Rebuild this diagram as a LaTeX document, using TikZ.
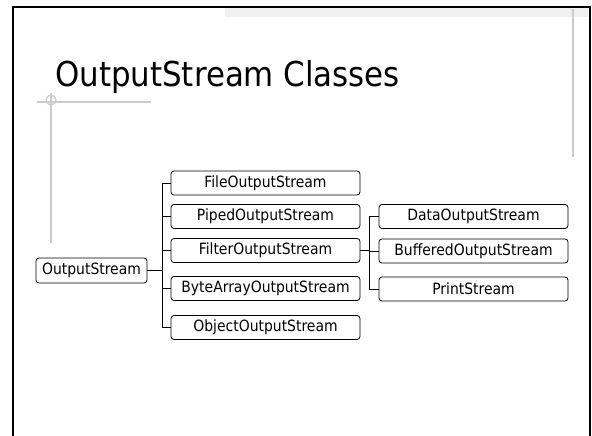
\documentclass[tikz,border=0pt]{standalone}
\usepackage{fontspec}
\setmainfont{DejaVu Sans Condensed}
\usetikzlibrary{positioning}

\tikzset{
  classbox/.style={draw, rounded corners=3pt, line width=0.8pt, minimum width=189, minimum height=24, inner sep=0pt, font=\fontsize{15.5}{17}\selectfont},
  rootbox/.style={classbox, minimum width=111, minimum height=25},
  guide/.style={draw=black!20, line width=1.2pt},
  tree/.style={draw, line width=0.8pt}
}

\begin{document}
\begin{tikzpicture}[x=1pt,y=1pt,yscale=-1,xscale=1]
\useasboundingbox (0,0) rectangle (592,436);

%Shape: Slide frame
\fill [black!6] (225,8) rectangle (588,17) ;
\draw [line width=2.5pt] (13,436) -- (13,7) -- (590,7) -- (590,436) ;
%Straight Lines: guides
\draw [guide] (573,9) -- (573,157) ;
\draw [guide] (37,102) -- (151,102) ;
\draw [guide] (51,93) -- (51,243) ;
\draw [guide] (51,100) circle (5) ;

% Text Node
\node [anchor=base west, inner sep=0pt, font=\fontsize{34.3}{40}\selectfont] (title) at (55,87) {OutputStream Classes};

% Class boxes
\node [rootbox] (root) at (91.5,270.5) {OutputStream};
\node [classbox] (file) at (265.5,183) {FileOutputStream};
\node [classbox] (piped) at (265.5,216.5) {PipedOutputStream};
\node [classbox] (filter) at (265.5,250.5) {FilterOutputStream};
\node [classbox] (bytearray) at (265.5,288.5) {ByteArrayOutputStream};
\node [classbox] (object) at (265.5,327.5) {ObjectOutputStream};
\node [classbox] (data) at (473.5,216.5) {DataOutputStream};
\node [classbox] (buffered) at (473.5,251) {BufferedOutputStream};
\node [classbox] (print) at (473.5,289) {PrintStream};

% Connectors
\coordinate (busA) at (162,270.5);
\coordinate (busB) at (369,250.5);
\draw [tree] (root.east) -- (busA) ;
\draw [tree] (busA |- file.west) -- (busA |- object.west) ;
\foreach \n in {file,piped,filter,bytearray,object}
  \draw [tree] (busA |- \n.west) -- (\n.west) ;
\draw [tree] (filter.east) -- (busB) ;
\draw [tree] (busB |- data.west) -- (busB |- print.west) ;
\foreach \n in {data,buffered,print}
  \draw [tree] (busB |- \n.west) -- (\n.west) ;

\end{tikzpicture}
\end{document}
